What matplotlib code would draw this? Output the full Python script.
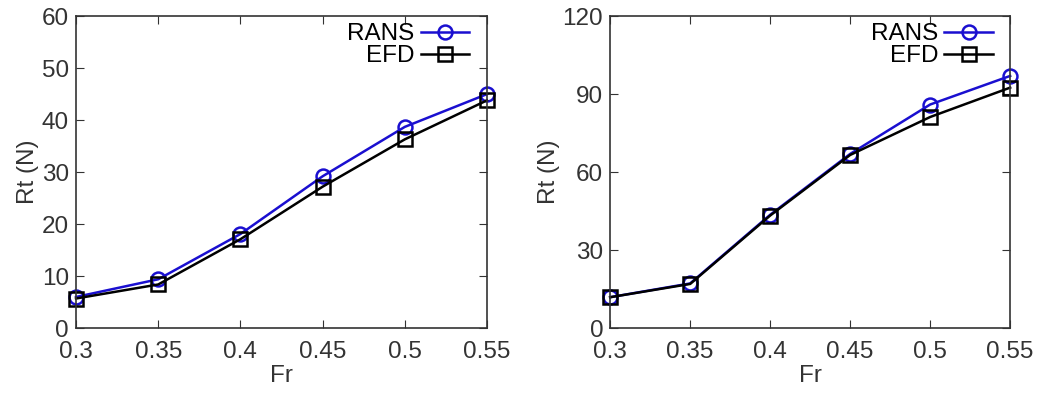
import matplotlib
matplotlib.use('Agg')
import matplotlib.pyplot as plt

plt.rcParams['font.family'] = ['Liberation Sans', 'DejaVu Sans']

# data
fr = [0.3, 0.35, 0.4, 0.45, 0.5, 0.55]
rans_left = [6.0, 9.4, 18.1, 29.2, 38.7, 45.0]
efd_left = [5.7, 8.4, 17.1, 27.2, 36.3, 43.8]
rans_right = [11.9, 17.2, 43.6, 67.0, 86.0, 97.0]
efd_right = [11.9, 17.0, 43.3, 66.6, 81.2, 92.5]

xticks = [0.3, 0.35, 0.4, 0.45, 0.5, 0.55]
xlabels = ['0.3', '0.35', '0.4', '0.45', '0.5', '0.55']

fig = plt.figure(figsize=(10.43, 3.93), dpi=100)
ax1 = fig.add_axes([0.0729, 0.165, 0.394, 0.794])
ax2 = fig.add_axes([0.585, 0.165, 0.3835, 0.794])

panels = [
    (ax1, rans_left, efd_left, 60, [0, 10, 20, 30, 40, 50, 60]),
    (ax2, rans_right, efd_right, 120, [0, 30, 60, 90, 120]),
]

for ax, rans, efd, ymax, yticks in panels:
    ax.plot(fr, rans, color='#1a0fd0', lw=1.8, marker='o', ms=10,
            mfc='none', mew=1.8, label='RANS', clip_on=False)
    ax.plot(fr, efd, color='black', lw=1.8, marker='s', ms=10,
            mfc='none', mew=1.8, label='EFD', clip_on=False)
    ax.set_xlim(0.3, 0.55)
    ax.set_ylim(0, ymax)
    ax.set_xticks(xticks)
    ax.set_xticklabels(xlabels)
    ax.set_yticks(yticks)
    ax.tick_params(direction='in', top=True, right=True, length=6,
                   labelsize=17.5, colors='#333333')
    ax.tick_params(axis='x', pad=9)
    ax.tick_params(axis='y', pad=5)
    for s in ax.spines.values():
        s.set_color('#333333')
        s.set_linewidth(1.2)
    ax.set_xlabel('Fr', fontsize=17.5, labelpad=2, color='#333333')
    ax.set_ylabel('Rt (N)', fontsize=17.5, labelpad=2, color='#333333')
    ax.legend(loc='upper right', frameon=False, markerfirst=False,
              fontsize=17.5, handlelength=2.0, handletextpad=0.25,
              labelspacing=0.0, borderaxespad=0.1, borderpad=0.2,
              bbox_to_anchor=(0.975, 1.0))

plt.savefig('out.png', dpi=100)
